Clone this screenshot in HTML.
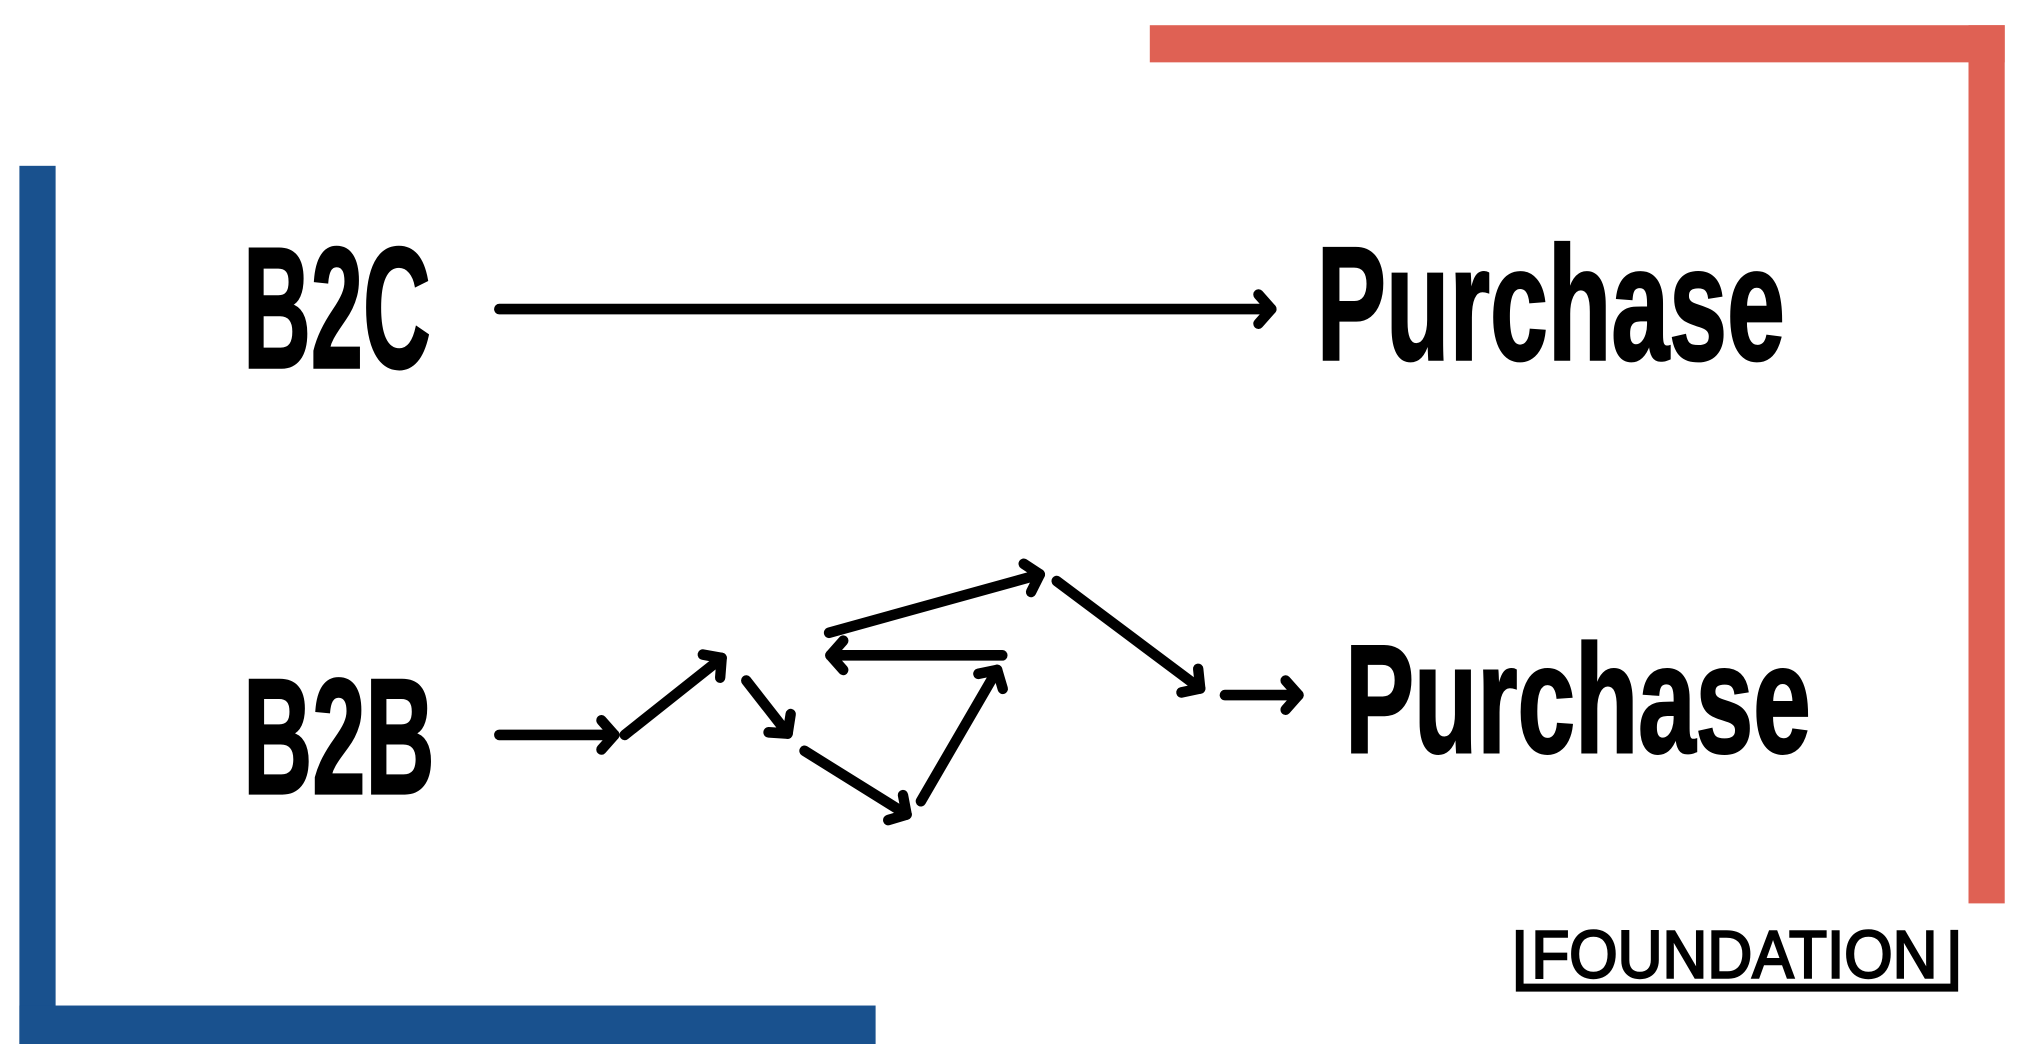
<!DOCTYPE html>
<html><head><meta charset="utf-8"><style>
html,body{margin:0;padding:0;background:#fff;}
svg{display:block}
</style></head><body>
<svg width="2028" height="1044" viewBox="0 0 1568 787" preserveAspectRatio="none" xmlns="http://www.w3.org/2000/svg">
<defs>
<marker id="a" markerUnits="userSpaceOnUse" markerWidth="36" markerHeight="36" refX="18" refY="18" orient="auto" viewBox="0 0 36 36">
<polyline points="8,7 18,18 8,29" fill="none" stroke="#000" stroke-width="8" stroke-linecap="round" stroke-linejoin="round"/>
</marker>
</defs>
<rect x="0" y="0" width="1568" height="787" fill="#fff"/>
<rect x="889" y="19" width="661" height="28" fill="#df6154"/>
<rect x="1522" y="19" width="28" height="662" fill="#df6154"/>
<rect x="15" y="125" width="28" height="662" fill="#19518e"/>
<rect x="15" y="758" width="662" height="29" fill="#19518e"/>
<g font-family="'Liberation Sans Narrow','Liberation Sans',sans-serif" font-weight="bold" fill="#000" stroke="#000" stroke-width="2">
<text x="188" y="277" font-size="130" textLength="145" lengthAdjust="spacingAndGlyphs">B2C</text>
<text x="1018" y="271" font-size="122" textLength="362" lengthAdjust="spacingAndGlyphs">Purchase</text>
<text x="188" y="598" font-size="124" textLength="148" lengthAdjust="spacingAndGlyphs">B2B</text>
<text x="1040" y="567" font-size="116" textLength="360" lengthAdjust="spacingAndGlyphs">Purchase</text>
</g>
<g stroke="#000" stroke-width="8" stroke-linecap="round" fill="none" marker-end="url(#a)">
<line x1="386" y1="233" x2="983" y2="233"/>
<line x1="386" y1="554" x2="475" y2="554"/>
<line x1="483" y1="554" x2="558" y2="496"/>
<line x1="577" y1="513" x2="609" y2="553"/>
<line x1="622" y1="566" x2="701" y2="614"/>
<line x1="712" y1="604" x2="771" y2="505"/>
<line x1="775" y1="494" x2="642" y2="494"/>
<line x1="641" y1="477" x2="804" y2="433"/>
<line x1="817" y1="438" x2="928" y2="519"/>
<line x1="947" y1="524" x2="1004" y2="524"/>
</g>
<polyline points="1175,701 1175,744.5 1511,744.5 1511,701" fill="none" stroke="#000" stroke-width="6"/>
<text x="1184" y="737" font-family="'Liberation Sans',sans-serif" font-size="50" stroke="#000" stroke-width="1.8" textLength="314" lengthAdjust="spacingAndGlyphs" fill="#000">FOUNDATION</text>
</svg>
</body></html>
